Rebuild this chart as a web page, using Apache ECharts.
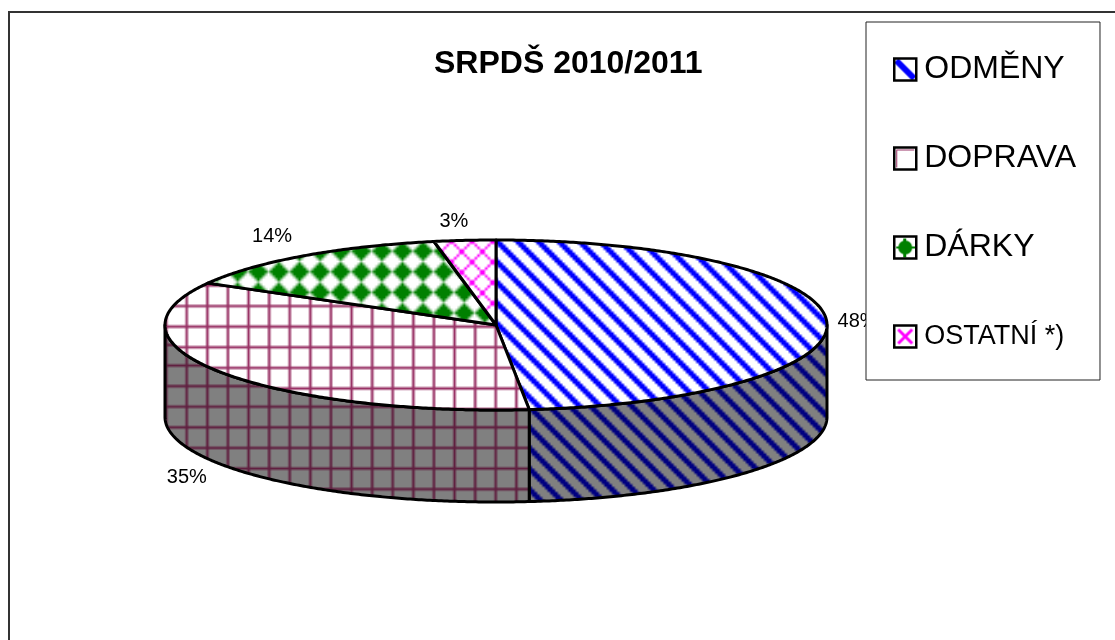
<!DOCTYPE html>
<html>
<head>
<meta charset="utf-8">
<style>html,body{margin:0;padding:0;background:#fff}#c{width:1115px;height:640px}</style>
<script src="https://cdn.jsdelivr.net/npm/echarts@6/dist/echarts.min.js"></script>
</head>
<body>
<div id="c"></div>
<script>
var titleText = 'SRPDŠ 2010/2011';
var categories = ['ODMĚNY', 'DOPRAVA', 'DÁRKY', 'OSTATNÍ *)'];
var shares = [48.4, 34.8, 13.8, 3.0];

// ---- layout & style (not data) ----
var FONT = '"Liberation Sans", Arial, sans-serif';
var DEPTH = 92 / 85;           // wall height in y-axis units
var TILE = 20.6 / 8;           // scale of the 8x8 hatch bitmaps
var labelNudge = [[31, 1], [-32, 14], [-31, -19], [-11, -19]];
var WALL = '#808080';

function bitmap(test, fg, bg) {
  var cv = document.createElement('canvas');
  cv.width = cv.height = 8;
  var g = cv.getContext('2d');
  g.fillStyle = bg; g.fillRect(0, 0, 8, 8);
  g.fillStyle = fg;
  for (var r = 0; r < 8; r++) for (var c = 0; c < 8; c++) {
    var cover = Number(test(c, r));
    if (cover > 0) { g.globalAlpha = cover; g.fillRect(c, r, 1, 1); }
  }
  return cv;
}
function hatch(test, fg, bg, x, y) {
  return { image: bitmap(test, fg, bg), repeat: 'repeat', x: x, y: y, scaleX: TILE, scaleY: TILE };
}
var stripes = function (c, r) { var d = (c - r + 16) % 8; return d < 3; };
var lattice = function (c, r) { return c === 0 || r === 0; };
var diamonds = function (c, r) {
  var d = Math.abs(c - 4) + Math.abs(r - 4);
  return d <= 3 ? 1 : (d === 4 ? 0.4 : 0);
};
var crosses = function (c, r) { return c === r || c + r === 7; };

var topFills = [
  hatch(stripes, '#0000ff', '#ffffff', 6, 0),
  hatch(lattice, '#993366', '#ffffff', 185.4, 304.7),
  hatch(diamonds, '#008000', '#ffffff', 308.4, 260.1),
  hatch(crosses, '#ff00ff', '#ffffff', 451.4, 262)
];
var wallFills = [
  hatch(stripes, '#000080', WALL, 17, 0),
  hatch(lattice, '#602040', WALL, 185.4, 426),
  hatch(diamonds, '#004000', WALL, 0, 0),
  hatch(crosses, '#800080', WALL, 0, 0)
];

function legendIcon(draw) {
  var cv = document.createElement('canvas');
  cv.width = cv.height = 22;
  var g = cv.getContext('2d');
  g.fillStyle = '#fff'; g.fillRect(0, 0, 22, 22);
  draw(g);
  return { image: cv, repeat: 'no-repeat' };
}
var legendIcons = [
  legendIcon(function (g) { g.strokeStyle = '#0000ff'; g.lineWidth = 6; g.beginPath(); g.moveTo(2, 2); g.lineTo(20, 20); g.stroke(); }),
  legendIcon(function (g) { g.fillStyle = '#993366'; g.fillRect(2, 2, 1, 18); g.fillRect(2, 2, 18, 1); }),
  legendIcon(function (g) { g.fillStyle = '#008000'; g.beginPath(); g.arc(11, 11, 7, 0, 7); g.fill(); g.fillRect(9, 2, 3, 19); g.fillRect(2, 10, 19, 2); }),
  legendIcon(function (g) { g.strokeStyle = '#ff00ff'; g.lineWidth = 3; g.beginPath(); g.moveTo(4, 4); g.lineTo(18, 18); g.moveTo(18, 4); g.lineTo(4, 18); g.stroke(); })
];

var total = shares.reduce(function (a, b) { return a + b; }, 0);

function makeRenderItem(idx) {
  return function (params, api) {
    var a = api.value(0), b = api.value(1), pct = api.value(2);
    function pt(deg, drop) {
      var t = deg * Math.PI / 180;
      return api.coord([Math.sin(t), Math.cos(t) - (drop ? DEPTH : 0)]);
    }
    var children = [];
    var wa = Math.max(a, 90), wb = Math.min(b, 270), d;
    if (wb > wa) {
      var wall = [];
      for (d = wa; d < wb; d += 0.5) wall.push(pt(d, false));
      wall.push(pt(wb, false));
      for (d = wb; d > wa; d -= 0.5) wall.push(pt(d, true));
      wall.push(pt(wa, true));
      children.push({ type: 'polygon', shape: { points: wall },
        style: { fill: wallFills[idx], stroke: '#000', lineWidth: 3, lineJoin: 'round' } });
    }
    var top = [api.coord([0, 0])];
    for (d = a; d < b; d += 0.5) top.push(pt(d, false));
    top.push(pt(b, false));
    children.push({ type: 'polygon', shape: { points: top },
      style: { fill: topFills[idx], stroke: '#000', lineWidth: 3, lineJoin: 'round' } });
    var mid = (a + b) / 2;
    var anchor = pt(mid, mid > 90 && mid < 270);
    children.push({ type: 'text', style: {
      text: Math.round(pct) + '%', x: anchor[0] + labelNudge[idx][0], y: anchor[1] + labelNudge[idx][1],
      align: 'center', verticalAlign: 'middle', fill: '#000', font: '20px ' + FONT } });
    return { type: 'group', children: children };
  };
}

var cumulative = 0;
var series = categories.map(function (name, i) {
  var start = cumulative / total * 360;
  cumulative += shares[i];
  var end = cumulative / total * 360;
  return {
    type: 'custom', name: name, coordinateSystem: 'cartesian2d', clip: false, silent: true,
    renderItem: makeRenderItem(i), data: [[start, end, shares[i]]], z: 2 + i
  };
});

var chart = echarts.init(document.getElementById('c'), null, { renderer: 'canvas' });
chart.setOption({
  animation: false,
  backgroundColor: '#fff',
  title: { text: titleText, left: 434, top: 48, padding: 0,
    textStyle: { fontFamily: FONT, fontSize: 32, fontWeight: 'bold', color: '#000' } },
  grid: { left: 165, width: 662, top: 240, height: 170 },
  xAxis: { type: 'value', min: -1, max: 1, show: false },
  yAxis: { type: 'value', min: -1, max: 1, show: false },
  graphic: [{ type: 'rect', z: 0, silent: true, shape: { x: 9, y: 12, width: 1300, height: 900 },
    style: { fill: 'none', stroke: '#333', lineWidth: 2 } }],
  legend: {
    orient: 'vertical', left: 866, top: 22, z: 20, selectedMode: false,
    padding: [25, 24, 21, 27], itemGap: 44, itemWidth: 22, itemHeight: 22,
    backgroundColor: '#fff', borderColor: '#222', borderWidth: 1,
    icon: 'rect',
    data: categories.map(function (name, i) {
      return { name: name, icon: 'rect',
        itemStyle: { color: legendIcons[i], borderColor: '#000', borderWidth: 2.5 },
        textStyle: { fontFamily: FONT, fontSize: i === 3 ? 27 : 32, lineHeight: 36, color: '#000', padding: [9, 0, 0, 3] } };
    })
  },
  series: series
});
</script>
</body>
</html>
